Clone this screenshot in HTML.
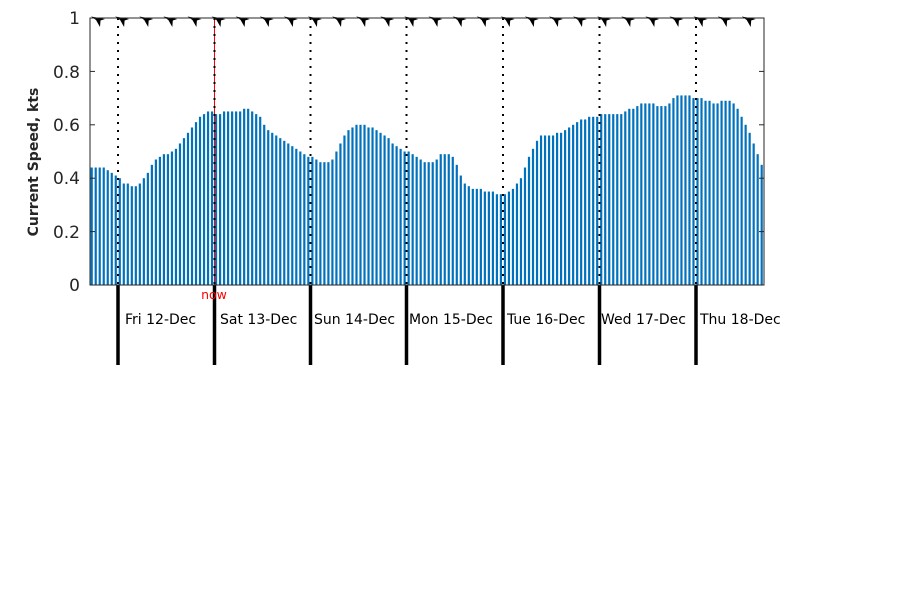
<!DOCTYPE html>
<html><head><meta charset="utf-8"><style>
html,body{margin:0;padding:0;background:#fff;}
svg{display:block;font-family:"DejaVu Sans","Liberation Sans",sans-serif;}
</style></head><body>
<svg id="s" width="900" height="600" xmlns="http://www.w3.org/2000/svg">
<rect width="900" height="600" fill="#fff"/>
<g id="bars"></g>
<g id="lines"></g>
<rect x="90" y="18" width="674" height="267" fill="none" stroke="#262626" stroke-width="1"/>
<g font-size="17" fill="#262626" text-anchor="end">
<text x="80" y="291">0</text>
<text x="80" y="238">0.2</text>
<text x="80" y="184">0.4</text>
<text x="80" y="131">0.6</text>
<text x="80" y="78">0.8</text>
<text x="80" y="24">1</text>
</g>
<text transform="translate(38,162) rotate(-90)" font-size="14" font-weight="bold" fill="#262626" text-anchor="middle">Current Speed, kts</text>
<text x="214" y="299" font-size="12.5" fill="#ff0000" text-anchor="middle">now</text>
<g font-size="14" fill="#000">
<text x="125" y="324">Fri 12-Dec</text>
<text x="220" y="324">Sat 13-Dec</text>
<text x="314" y="324">Sun 14-Dec</text>
<text x="409" y="324">Mon 15-Dec</text>
<text x="507" y="324">Tue 16-Dec</text>
<text x="601" y="324">Wed 17-Dec</text>
<text x="700" y="324">Thu 18-Dec</text>
</g>
</svg>
<script>
var v=[0.44,0.44,0.44,0.44,0.43,0.42,0.41,
0.40,0.38,0.38,0.37,0.37,0.38,0.40,0.42,0.45,0.47,0.48,0.49,0.49,0.50,0.51,0.53,0.55,0.57,0.59,0.61,0.63,0.64,0.65,0.65,
0.64,0.64,0.65,0.65,0.65,0.65,0.65,0.66,0.66,0.65,0.64,0.63,0.60,0.58,0.57,0.56,0.55,0.54,0.53,0.52,0.51,0.50,0.49,0.48,
0.48,0.47,0.46,0.46,0.46,0.47,0.50,0.53,0.56,0.58,0.59,0.60,0.60,0.60,0.59,0.59,0.58,0.57,0.56,0.55,0.53,0.52,0.51,0.50,
0.50,0.49,0.48,0.47,0.46,0.46,0.46,0.47,0.49,0.49,0.49,0.48,0.45,0.41,0.38,0.37,0.36,0.36,0.36,0.35,0.35,0.35,0.34,0.34,
0.34,0.35,0.36,0.38,0.40,0.44,0.48,0.51,0.54,0.56,0.56,0.56,0.56,0.57,0.57,0.58,0.59,0.60,0.61,0.62,0.62,0.63,0.63,0.63,
0.64,0.64,0.64,0.64,0.64,0.64,0.65,0.66,0.66,0.67,0.68,0.68,0.68,0.68,0.67,0.67,0.67,0.68,0.70,0.71,0.71,0.71,0.71,0.70,
0.70,0.70,0.69,0.69,0.68,0.68,0.69,0.69,0.69,0.68,0.66,0.63,0.60,0.57,0.53,0.49,0.45];
var NS="http://www.w3.org/2000/svg";
function el(t,a,p){var e=document.createElementNS(NS,t);for(var k in a)e.setAttribute(k,a[k]);p.appendChild(e);return e;}
var b=document.getElementById('bars'),L=document.getElementById('lines');
var step=674/v.length;
for(var i=0;i<v.length;i++){var h=v[i]*267;el('rect',{x:90+i*step+0.6,y:285-h,width:2.2,height:h,fill:'#0072bd'},b);}
var days=[118,214.5,310.5,406.5,503,599.5,696];
days.forEach(function(x,j){
 if(j!=1) el('line',{x1:x,y1:18,x2:x,y2:285,stroke:'#000','stroke-width':2,'stroke-dasharray':'2,6'},L);
 el('line',{x1:x,y1:285,x2:x,y2:365,stroke:'#000','stroke-width':3.5},L);
});
el('line',{x1:214.5,y1:18,x2:214.5,y2:285,stroke:'#ff0000','stroke-width':1},L);
el('line',{x1:214.5,y1:18,x2:214.5,y2:285,stroke:'#000','stroke-width':2,'stroke-dasharray':'2,6'},L);
for(var k=1;k<5;k++){var y=285-k*53.4;el('line',{x1:90,y1:y,x2:95,y2:y,stroke:'#262626'},L);el('line',{x1:759,y1:y,x2:764,y2:y,stroke:'#262626'},L);}
for(var x=99;x<765;x+=24.1){el('polygon',{points:(x-8)+',16.5 '+(x+6)+',19 '+(x+1.5)+',20.5 '+(x+1)+',27 '+(x-3)+',20','fill':'#000'},L);}
</script>
</body></html>
